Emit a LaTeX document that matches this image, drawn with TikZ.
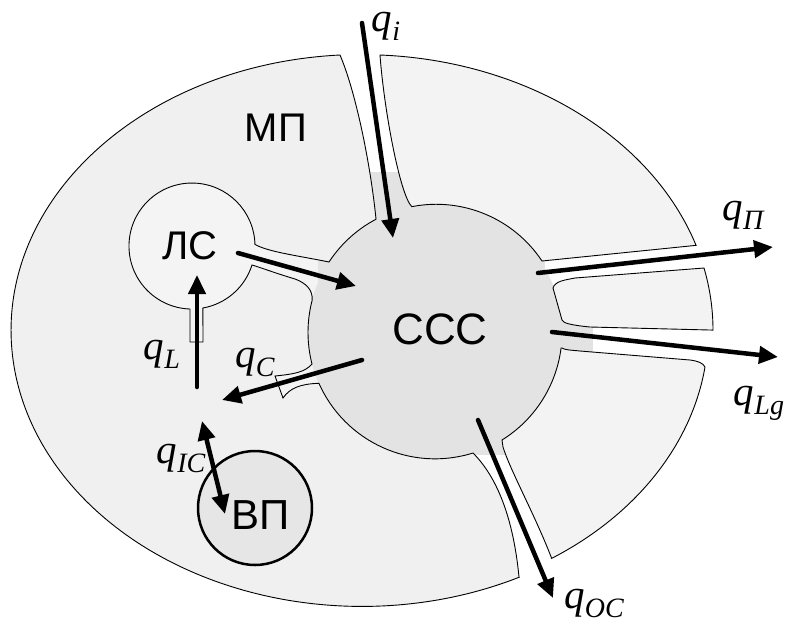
\documentclass[tikz,border=0pt]{standalone}
\usepackage{fontspec}
\setmainfont{Liberation Sans}
\newfontfamily\qfont{Liberation Serif}
\usetikzlibrary{arrows.meta,calc}

\definecolor{mpgray}{HTML}{F0F0F0}
\definecolor{lsgray}{HTML}{F4F4F4}
\definecolor{partgray}{HTML}{F3F3F3}
\definecolor{cccgray}{HTML}{E3E3E3}
\definecolor{vpgray}{HTML}{E6E6E6}

\newcommand{\flux}[1]{q\raisebox{-0.22em}{\fontsize{28}{28}\selectfont #1}}

\begin{document}
\begin{tikzpicture}[
  x=1pt, y=-1pt,
  >={Triangle[length=19pt, width=17pt]},
  part/.style={draw=black, line width=0.9pt, fill=partgray},
  flow/.style={->, line width=4.5pt, line cap=round},
  zone/.style={font=\fontsize{40}{40}\selectfont, inner sep=0pt},
  qlab/.style={font=\qfont\itshape\fontsize{41}{41}\selectfont, inner sep=0pt}
]
\useasboundingbox (0,0) rectangle (790,625);

%% ============ inner spaces (LS bay, channels, CCC) ============
\fill[lsgray] (192,246) circle[radius=63];
\fill[lsgray] (250,238) -- (332,256) -- (332,306) -- (250,272) -- cycle;
\fill[lsgray] (187,300) rectangle (206,345);
\fill[lsgray] (268,358) -- (322,358) -- (322,402) -- (278,404) -- cycle;
\fill[cccgray] (435,332) circle[radius=127];
\fill[cccgray] (318,172) rectangle (545,455);
\fill[cccgray] (545,300) rectangle (593,455);

%% ============ MP: left part of the cell ============
\path[part, fill=mpgray]
  (519,577) .. controls (514,525) and (500,480) .. (473,453)
  arc[start angle=72.6, end angle=156.1, radius=127]
  .. controls (300,384) and (290,388) .. (283,398)
  -- (275,376)
  .. controls (295,374) and (305,372) .. (312,364)
  arc[start angle=165.6, end angle=194.7, radius=127]
  .. controls (313,290) and (306,283) .. (295,279)
  .. controls (275,273) and (262,268) .. (252,265)
  arc[start angle=17.6, end angle=80, radius=63]
  -- (203,342) -- (190,342) -- (190,309)
  arc[start angle=91.8, end angle=358.5, radius=63]
  .. controls (268,252) and (300,256) .. (329,262)
  arc[start angle=213.2, end angle=242.2, radius=127]
  .. controls (370,160) and (355,90) .. (340,55)
  arc[start angle=-93.6, end angle=-296.6, x radius=351, y radius=276]
  -- cycle;

%% ============ right parts ============
\path[part]
  (380,55) arc[start angle=-87.1, end angle=-18, x radius=351, y radius=276]
  -- (542,261)
  arc[start angle=-33.6, end angle=-101.1, radius=127]
  .. controls (400,195) and (384,110) .. (380,55) -- cycle;
\path[part]
  (553,288) .. controls (555,281) and (565,280) .. (575,278) -- (704,268)
  arc[start angle=-13, end angle=0, x radius=351, y radius=276]
  -- (590,327) .. controls (570,325) and (563,323) .. (562,320) -- cycle;
\path[part]
  (562,348) .. controls (565,350) and (570,350) .. (580,351) -- (690,360)
  .. controls (698,361) and (703,363) .. (705,367)
  arc[start angle=7.8, end angle=56.8, x radius=346, y radius=273]
  .. controls (535,515) and (510,470) .. (503,447) -- (502,440)
  arc[start angle=58.2, end angle=7.2, radius=127] -- cycle;

%% ============ VP ============
\draw[line width=2.5pt, fill=vpgray] (255,508) circle[radius=57];

%% ============ names ============
\node[zone] (mp)  at (276,128) {МП};
\node[zone] (ls)  at (190,246) {ЛС};
\node[zone, font=\fontsize{44}{44}\selectfont] (ccc) at (440,329) {ССС};
\node[zone, font=\fontsize{42}{42}\selectfont] (vp)  at (261,515) {ВП};

%% ============ fluxes ============
\coordinate (inTop)   at (362,23);
\coordinate (inEnd)   at (393,238);
\coordinate (lsOut)   at (238,253);
\coordinate (lsIn)    at (356,286);
\coordinate (pStart)  at (538,273);
\coordinate (pEnd)    at (773,247);
\coordinate (lgStart) at (552,332);
\coordinate (lgEnd)   at (778,357);
\coordinate (ocStart) at (478,420);
\coordinate (ocEnd)   at (553,598);
\coordinate (cStart)  at (362,360);
\coordinate (cEnd)    at (222,400);
\coordinate (lStart)  at (197,387);
\coordinate (lEnd)    at (197,275);
\coordinate (icTop)   at (202,421);
\coordinate (icBot)   at (225,514);

\draw[flow] (inTop) -- (inEnd);
\draw[flow] (lsOut) -- (lsIn);
\draw[flow] (pStart) -- (pEnd);
\draw[flow] (lgStart) -- (lgEnd);
\draw[flow] (ocStart) -- (ocEnd);
\draw[flow] (cStart) -- (cEnd);
\draw[flow] (lStart) -- (lEnd);
\draw[flow, <->] (icTop) -- (icBot);

\node[qlab] (qi)  at (386,26)  {\flux{i}};
\node[qlab] (qp)  at (743,215) {\flux{П}};
\node[qlab] (qlg) at (759,403) {\flux{Lg}};
\node[qlab] (qoc) at (594,603) {\flux{OC}};
\node[qlab] (qc)  at (255,362) {\flux{C}};
\node[qlab] (ql)  at (162,354) {\flux{L}};
\node[qlab] (qic) at (181,458) {\flux{IC}};

\end{tikzpicture}
\end{document}
